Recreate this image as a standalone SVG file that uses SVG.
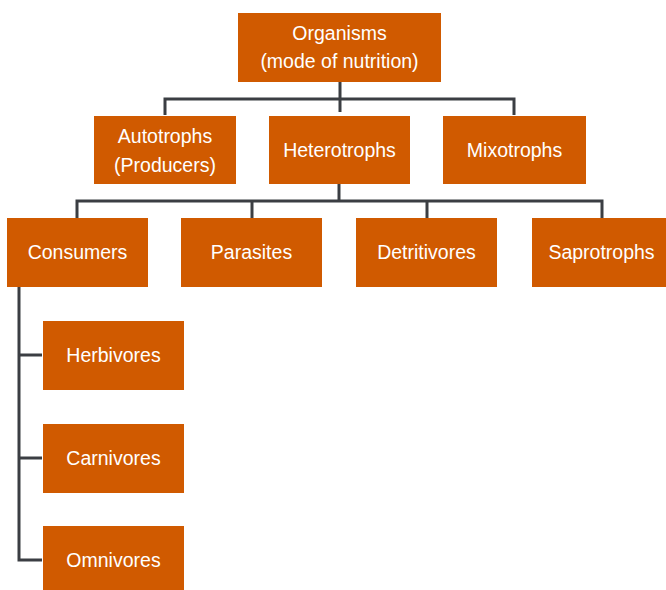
<svg xmlns="http://www.w3.org/2000/svg" width="666" height="590" viewBox="0 0 666 590">
  <style>
    .box { fill: #d05a00; }
    .lbl { fill: #ffffff; font-family: "Liberation Sans", Arial, sans-serif; font-size: 19.5px; text-anchor: middle; }
    .wire { fill: none; stroke: #3b3e43; stroke-width: 3; stroke-linecap: butt; stroke-linejoin: miter; }
  </style>
  <rect width="666" height="590" fill="#ffffff"/>

  <!-- connectors -->
  <g id="connectors" class="wire">
    <path d="M340 82 V112"/>
    <path d="M165 115 V99 H514 V115"/>
    <path d="M339 184 V201"/>
    <path d="M77 218 V201 H602 V218"/>
    <path d="M252 201 V218"/>
    <path d="M427 201 V218"/>
    <path d="M19 287 V560 H42"/>
    <path d="M19 355 H42"/>
    <path d="M19 458 H42"/>
  </g>

  <!-- level 0 -->
  <g id="organisms">
    <rect class="box" x="238" y="13" width="203" height="69"/>
    <text class="lbl" x="339.5" y="40">Organisms</text>
    <text class="lbl" x="339.5" y="68">(mode of nutrition)</text>
  </g>

  <!-- level 1 -->
  <g id="autotrophs">
    <rect class="box" x="94" y="116" width="142" height="68"/>
    <text class="lbl" x="165" y="143">Autotrophs</text>
    <text class="lbl" x="165" y="172">(Producers)</text>
  </g>
  <g id="heterotrophs">
    <rect class="box" x="269" y="116" width="141" height="68"/>
    <text class="lbl" x="339.5" y="157">Heterotrophs</text>
  </g>
  <g id="mixotrophs">
    <rect class="box" x="443" y="116" width="143" height="68"/>
    <text class="lbl" x="514.5" y="157">Mixotrophs</text>
  </g>

  <!-- level 2 -->
  <g id="consumers">
    <rect class="box" x="7" y="218" width="141" height="69"/>
    <text class="lbl" x="77.5" y="259">Consumers</text>
  </g>
  <g id="parasites">
    <rect class="box" x="181" y="218" width="141" height="69"/>
    <text class="lbl" x="251.5" y="259">Parasites</text>
  </g>
  <g id="detritivores">
    <rect class="box" x="356" y="218" width="141" height="69"/>
    <text class="lbl" x="426.5" y="259">Detritivores</text>
  </g>
  <g id="saprotrophs">
    <rect class="box" x="532" y="218" width="140" height="69"/>
    <text class="lbl" x="601.5" y="259">Saprotrophs</text>
  </g>

  <!-- consumer types -->
  <g id="herbivores">
    <rect class="box" x="43" y="321" width="141" height="69"/>
    <text class="lbl" x="113.5" y="362">Herbivores</text>
  </g>
  <g id="carnivores">
    <rect class="box" x="43" y="424" width="141" height="69"/>
    <text class="lbl" x="113.5" y="465">Carnivores</text>
  </g>
  <g id="omnivores">
    <rect class="box" x="43" y="526" width="141" height="69"/>
    <text class="lbl" x="113.5" y="567">Omnivores</text>
  </g>
</svg>
